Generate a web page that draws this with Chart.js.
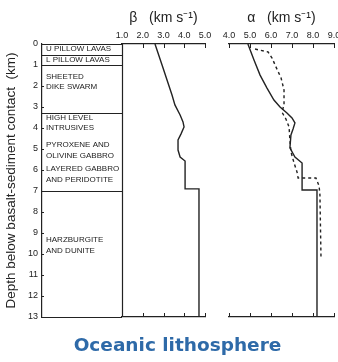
<!DOCTYPE html>
<html>
<head>
<meta charset="utf-8">
<script src="https://cdn.jsdelivr.net/npm/chart.js@4.4.1/dist/chart.umd.min.js"></script>
<style>
  body { margin: 0; background: #fff; }
  #wrap { position: relative; width: 338px; height: 362px; overflow: hidden; }
  #wrap canvas { position: absolute; top: 0; }
  #caption {
    position: absolute; left: 0; top: 334px; width: 355px;
    text-align: center; line-height: 22px;
    font: bold 18.5px 'DejaVu Sans', Verdana, sans-serif; color: #2e6aa8;
  }
</style>
</head>
<body>
<div id="wrap">
  <canvas id="colChart" width="124" height="362" style="left:0"></canvas>
  <canvas id="betaChart" width="112" height="362" style="left:110px"></canvas>
  <canvas id="alphaChart" width="135" height="362" style="left:215px"></canvas>
  <div id="caption">Oceanic lithosphere</div>
</div>
<script>
// tick values
const depthTicks = [0, 1, 2, 3, 4, 5, 6, 7, 8, 9, 10, 11, 12, 13];
const betaTicks = [1, 2, 3, 4, 5];
const alphaTicks = [4, 5, 6, 7, 8, 9];

// lithology column (km)
const unitBounds = [0, 0.5, 1.0, 3.3, 7.0, 13];
const unitLabels = ['U PILLOW LAVAS', 'L PILLOW LAVAS', 'SHEETED', 'DIKE SWARM', 'HIGH LEVEL', 'INTRUSIVES',
    'PYROXENE AND', 'OLIVINE GABBRO', 'LAYERED GABBRO', 'AND PERIDOTITE', 'HARZBURGITE', 'AND DUNITE'];
const unitLabelDepths = [0.24, 0.76, 1.57, 2.05, 3.52, 4.0, 4.81, 5.33, 5.95, 6.48, 9.33, 9.86];

// shear velocity beta
const betaDepth = [0, 1.0, 2.43, 2.9, 3.38, 3.71, 3.95, 4.29, 4.57, 5.05, 5.38, 5.57, 6.9, 6.9, 13];
const betaVel = [2.59, 2.93, 3.41, 3.55, 3.80, 3.94, 3.99, 3.84, 3.70, 3.70, 3.80, 4.04, 4.04, 4.71, 4.71];

// P velocity alpha (solid)
const alphaDepth = [0, 0.76, 1.48, 2.1, 2.67, 3.0, 3.29, 3.52, 3.76, 4.05, 4.33, 4.95, 5.38, 5.67, 6.95, 6.95, 13];
const alphaVel = [4.90, 5.19, 5.48, 5.81, 6.14, 6.43, 6.76, 7.0, 7.14, 7.05, 6.95, 6.90, 7.14, 7.48, 7.48, 8.19, 8.19];

// P velocity alpha (dashed)
const alphaDashDepth = [0.24, 0.38, 0.67, 1.1, 1.62, 2.19, 2.9, 3.24, 3.57, 3.95, 4.57, 5.14, 5.67, 6.1, 6.38, 6.38, 6.76, 7.19, 10.14];
const alphaDashVel = [5.24, 5.86, 6.05, 6.24, 6.48, 6.62, 6.62, 6.52, 6.71, 6.86, 6.90, 6.95, 7.10, 7.24, 7.29, 8.14, 8.29, 8.33, 8.38];

const INK = '#222';
const tickFont = { family: "'Liberation Sans Narrow', 'Liberation Sans', Arial, sans-serif", size: 9 };
const labelFont = "8px 'Liberation Sans', Arial, sans-serif";

function toPoints(xs, ys) {
    return xs.map((v, i) => ({ x: v, y: ys[i] }));
}

// small ticks pointing into the plot on top and bottom axes
const innerTicks = {
    id: 'innerTicks',
    afterDraw(chart) {
        const { ctx, chartArea } = chart;
        ctx.save();
        ctx.strokeStyle = INK;
        ctx.lineWidth = 1;
        ['x', 'xb'].forEach(id => {
            const s = chart.scales[id];
            const isTop = s.options.position === 'top';
            const y0 = isTop ? chartArea.top : chartArea.bottom;
            s.ticks.forEach(t => {
                const px = Math.round(s.getPixelForValue(t.value)) + 0.5;
                ctx.beginPath();
                ctx.moveTo(px, y0);
                ctx.lineTo(px, y0 + (isTop ? 4 : -4));
                ctx.stroke();
            });
        });
        ctx.restore();
    }
};

// outline + names of the rock units
const columnPlugin = {
    id: 'column',
    afterDraw(chart) {
        const { ctx, chartArea } = chart;
        const y = chart.scales.y;
        ctx.save();
        ctx.strokeStyle = INK;
        ctx.lineWidth = 1.2;
        unitBounds.forEach(d => {
            const py = Math.round(y.getPixelForValue(d)) + 0.5;
            ctx.beginPath();
            ctx.moveTo(chartArea.left, py);
            ctx.lineTo(chartArea.right, py);
            ctx.stroke();
        });
        ctx.beginPath();
        ctx.moveTo(chartArea.right + 0.5, y.getPixelForValue(0));
        ctx.lineTo(chartArea.right + 0.5, y.getPixelForValue(13));
        ctx.stroke();

        ctx.lineWidth = 1;
        depthTicks.forEach(d => {
            const py = Math.round(y.getPixelForValue(d)) + 0.5;
            ctx.beginPath();
            ctx.moveTo(chartArea.left, py);
            ctx.lineTo(chartArea.left + 2, py);
            ctx.stroke();
        });

        ctx.fillStyle = INK;
        ctx.font = labelFont;
        ctx.textBaseline = 'middle';
        unitLabels.forEach((txt, i) => {
            ctx.fillText(txt, chartArea.left + 4, y.getPixelForValue(unitLabelDepths[i]));
        });
        ctx.restore();
    }
};

function velocityChart(id, ticks, padLeft, padRight, title, datasets) {
    const min = ticks[0];
    const max = ticks[ticks.length - 1];
    const setTicks = s => { s.ticks = ticks.map(v => ({ value: v })); };
    return new Chart(document.getElementById(id), {
        type: 'scatter',
        data: { datasets: datasets },
        options: {
            responsive: false,
            animation: false,
            devicePixelRatio: 1,
            layout: { padding: { left: padLeft, right: padRight, top: 0, bottom: 45 } },
            plugins: { legend: { display: false }, tooltip: { enabled: false } },
            scales: {
                x: {
                    type: 'linear', position: 'top', min: min, max: max,
                    afterBuildTicks: setTicks,
                    afterFit: s => { s.height = 44; },
                    grid: { display: false, drawTicks: false },
                    border: { color: INK, width: 1.2 },
                    ticks: { font: tickFont, color: INK, padding: 3, maxRotation: 0, autoSkip: false,
                        callback: v => v.toFixed(1) },
                    title: { display: true, text: title, color: INK,
                        font: { family: "'Liberation Sans', Arial, sans-serif", size: 14 },
                        padding: { top: 10, bottom: 0 } }
                },
                xb: {
                    type: 'linear', position: 'bottom', min: min, max: max,
                    afterBuildTicks: setTicks,
                    afterFit: s => { s.height = 0; },
                    grid: { display: false, drawTicks: false },
                    border: { color: INK, width: 1.2 },
                    ticks: { display: false }
                },
                y: { type: 'linear', reverse: true, min: 0, max: 13, display: false }
            }
        },
        plugins: [innerTicks]
    });
}

function lineSet(points, dash) {
    return {
        data: points, showLine: true, pointRadius: 0, fill: false,
        borderColor: INK, borderWidth: 1.4, borderDash: dash || [], tension: 0
    };
}

document.addEventListener('DOMContentLoaded', function() {
    new Chart(document.getElementById('colChart'), {
        type: 'scatter',
        data: { datasets: [] },
        options: {
            responsive: false,
            animation: false,
            devicePixelRatio: 1,
            layout: { padding: { left: 0, right: 2, top: 44, bottom: 45 } },
            plugins: { legend: { display: false }, tooltip: { enabled: false } },
            scales: {
                x: { type: 'linear', min: 0, max: 1, display: false },
                y: {
                    type: 'linear', reverse: true, min: 0, max: 13,
                    afterBuildTicks: s => { s.ticks = depthTicks.map(v => ({ value: v })); },
                    afterFit: s => { s.width = 42; },
                    grid: { display: false, drawTicks: false },
                    border: { color: INK, width: 1.2 },
                    ticks: { font: tickFont, color: INK, padding: 4, autoSkip: false },
                    title: { display: true, text: 'Depth below basalt-sediment contact  (km)', color: '#222',
                        font: { family: "'Liberation Sans', Arial, sans-serif", size: 13.5 },
                        padding: { top: 3, bottom: 0 } }
                }
            }
        },
        plugins: [columnPlugin]
    });

    velocityChart('betaChart', betaTicks, 12, 17, 'β   (km s⁻¹)', [
        lineSet(toPoints(betaVel, betaDepth))
    ]);

    velocityChart('alphaChart', alphaTicks, 14, 16, 'α   (km s⁻¹)', [
        lineSet(toPoints(alphaVel, alphaDepth)),
        lineSet(toPoints(alphaDashVel, alphaDashDepth), [3, 3])
    ]);
});
</script>
</body>
</html>
